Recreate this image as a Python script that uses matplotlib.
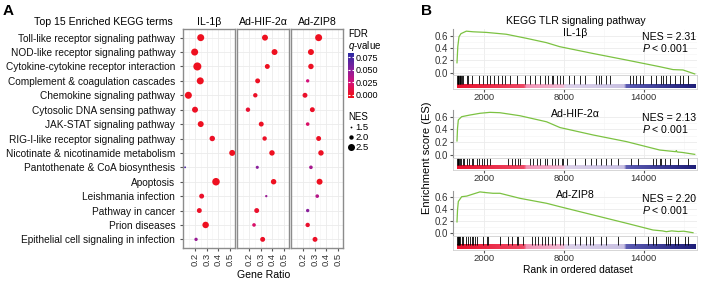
import matplotlib
matplotlib.use('Agg')
import matplotlib.pyplot as plt
import numpy as np
from matplotlib.colors import LinearSegmentedColormap, Normalize

plt.rcParams['font.family'] = ['Liberation Sans', 'DejaVu Sans']
plt.rcParams['mathtext.fontset'] = 'custom'
plt.rcParams['mathtext.rm'] = 'Liberation Sans'
plt.rcParams['mathtext.it'] = 'Liberation Sans:italic'

# ---- panel A data ----
terms = ['Toll-like receptor signaling pathway', 'NOD-like receptor signaling pathway',
         'Cytokine-cytokine receptor interaction', 'Complement & coagulation cascades',
         'Chemokine signaling pathway', 'Cytosolic DNA sensing pathway',
         'JAK-STAT signaling pathway', 'RIG-I-like receptor signaling pathway',
         'Nicotinate & nicotinamide metabolism', 'Pantothenate & CoA biosynthesis',
         'Apoptosis', 'Leishmania infection', 'Pathway in cancer', 'Prion diseases',
         'Epithelial cell signaling in infection']
groups = ['IL-1\u03b2', 'Ad-HIF-2\u03b1', 'Ad-ZIP8']

ratio_il = [0.249, 0.197, 0.22, 0.245, 0.143, 0.20, 0.249, 0.348, 0.519, 0.115,
            0.38, 0.257, 0.237, 0.291, 0.209]
ratio_hif = [0.337, 0.419, 0.357, 0.274, 0.254, 0.191, 0.305, 0.334, 0.397, 0.271,
             0.411, 0.348, 0.266, 0.243, 0.317]
ratio_zip = [0.334, 0.268, 0.268, 0.24, 0.217, 0.28, 0.24, 0.334, 0.354, 0.268,
             0.342, 0.322, 0.24, 0.24, 0.303]

nes_il = [2.5, 2.5, 2.7, 2.5, 2.5, 2.3, 2.3, 2.2, 2.3, 1.5, 2.6, 2.1, 2.1, 2.4, 1.8]
nes_hif = [2.3, 2.3, 2.1, 2.1, 2.0, 2.0, 2.1, 2.0, 2.2, 1.75, 2.2, 1.6, 2.1, 1.85, 2.1]
nes_zip = [2.5, 2.3, 2.2, 1.8, 2.1, 2.1, 1.85, 2.1, 2.2, 1.85, 2.3, 1.85, 1.8, 2.0, 2.1]

q_il = [0.0, 0.0, 0.0, 0.0, 0.0, 0.001, 0.0, 0.002, 0.0, 0.072, 0.0, 0.003, 0.002, 0.0, 0.045]
q_hif = [0.0, 0.0, 0.0, 0.001, 0.002, 0.005, 0.001, 0.002, 0.0, 0.05, 0.0, 0.045, 0.004, 0.02, 0.002]
q_zip = [0.0, 0.0, 0.001, 0.025, 0.003, 0.002, 0.02, 0.001, 0.001, 0.04, 0.0, 0.035, 0.05, 0.004, 0.002]

# ---- panel B data ----
gsea_names = ['IL-1\u03b2', 'Ad-HIF-2\u03b1', 'Ad-ZIP8']
gsea_nes = ['2.31', '2.13', '2.20']

rank_il = [0, 60, 150, 300, 500, 700, 1200, 2200, 3700, 5200, 6700, 7700, 10200,
           12700, 15200, 16200, 16950, 17830]
es_il = [0.16, 0.42, 0.58, 0.63, 0.65, 0.67, 0.66, 0.65, 0.62, 0.555, 0.485, 0.42,
         0.31, 0.205, 0.097, 0.05, 0.044, -0.02]

rank_hif = [0, 40, 100, 350, 970, 1720, 2470, 3220, 4720, 6720, 7720, 10220,
            12700, 15200, 16400, 16450, 16500, 16900, 17830]
es_hif = [0.22, 0.42, 0.55, 0.6, 0.626, 0.653, 0.668, 0.662, 0.615, 0.52, 0.43,
          0.313, 0.21, 0.078, 0.052, 0.07, 0.048, 0.04, 0.01]

rank_zip = [0, 40, 100, 350, 730, 1220, 1720, 2220, 2700, 3220, 4720, 6720, 7720,
            10220, 12720, 14700, 15400, 15700, 16100, 16600, 17000, 17700]
es_zip = [0.19, 0.39, 0.53, 0.61, 0.62, 0.655, 0.69, 0.677, 0.667, 0.667, 0.583,
          0.5, 0.443, 0.305, 0.167, 0.055, 0.04, 0.027, 0.04, 0.03, 0.035, 0.01]

hits_il = [10, 40, 70, 110, 150, 200, 260, 325, 400, 474, 724, 849, 1099, 1673, 1972,
           2222, 2472, 2771, 3046, 3346, 3595, 3970, 4470, 5093, 5468, 5842, 6217,
           6592, 6840, 7090, 7215, 7465, 7715, 7965, 8415, 8763, 9213, 9587, 10460,
           10660, 10835, 11210, 11510, 12957, 13207, 13406, 13706, 13956, 14580,
           14955, 15330, 15455, 15705, 15954, 16328, 16703, 16952, 17327]
hits_hif = [20, 60, 100, 150, 225, 325, 424, 549, 724, 899, 1099, 1223, 1473, 1673,
            1848, 2047, 2222, 2472, 3845, 4095, 4345, 4595, 4720, 5468, 5718, 5967,
            6217, 6592, 6717, 7090, 7340, 7590, 7839, 7965, 8214, 8838, 9587, 10087,
            10460, 10835, 11210, 11584, 12083, 13082, 13581, 14705, 14955, 15204,
            15330, 15580, 15954, 16578, 17327]
hits_zip = [10, 50, 90, 130, 170, 225, 350, 474, 649, 849, 974, 1099, 1223, 1348,
            1473, 1972, 2222, 2347, 3221, 3845, 4095, 4470, 4595, 4970, 5593, 5842,
            6092, 6342, 6592, 6840, 7090, 7340, 7715, 7965, 8340, 8838, 9213, 9712,
            9962, 10211, 10835, 11210, 12083, 13331, 14330, 14705, 14955, 15704,
            15829, 15954, 16328, 16578, 17077, 17327]

W, H = 709, 282
fig = plt.figure(figsize=(W / 100, H / 100), dpi=100)


def box(l, t, r, b):
    return [l / W, 1 - b / H, (r - l) / W, (b - t) / H]


qcmap = LinearSegmentedColormap.from_list('q', [(0, '#EE1020'), (0.3, '#D4107A'),
                                               (0.6, '#8A1F9C'), (1.0, '#2B2BA3')])
qnorm = Normalize(0, 0.083)


def dsize(n):
    # NES -> marker area (diameter in px converted to points)
    d = 1.8 + (n - 1.5) * 5.2
    return (d * 0.72) ** 2


grid_c = '#EBEBEB'
ypos = np.arange(len(terms))
facets = [(183, 235, ratio_il, nes_il, q_il), (237, 289, ratio_hif, nes_hif, q_hif),
          (291, 343, ratio_zip, nes_zip, q_zip)]
for k, (l, r, ratio, nes, q) in enumerate(facets):
    ax = fig.add_axes(box(l, 29, r, 248))
    ax.set_xlim(0.097, 0.543)
    ax.set_ylim(14.6, -0.6)
    ax.set_xticks([0.2, 0.3, 0.4, 0.5])
    ax.set_xticks([0.15, 0.25, 0.35, 0.45], minor=True)
    ax.set_yticks(ypos)
    ax.grid(True, which='major', color=grid_c, lw=0.6)
    ax.grid(True, which='minor', axis='x', color='#F4F4F4', lw=0.4)
    ax.set_axisbelow(True)
    ax.scatter(ratio, ypos, s=[dsize(n) for n in nes], c=q, cmap=qcmap, norm=qnorm,
               linewidths=0, zorder=3)
    for sp in ax.spines.values():
        sp.set_color('#8C8C8C')
        sp.set_linewidth(1.0)
    ax.tick_params(axis='x', which='major', length=2, color='#555555', labelsize=6.8,
                   labelrotation=90, pad=1.5)
    ax.tick_params(axis='x', which='minor', length=0)
    ax.set_xticklabels(['0.2', '0.3', '0.4', '0.5'], color='#333333')
    if k == 0:
        ax.tick_params(axis='y', length=2.5, color='#555555', labelsize=7.3, pad=3)
        ax.set_yticklabels(terms, color='#111111')
    else:
        ax.tick_params(axis='y', length=0, labelleft=False)

# q-value colorbar
cax = fig.add_axes(box(348, 53, 354, 98))
grad = np.linspace(-0.006, 0.083, 200)[:, None]
cax.imshow(grad, extent=(0, 1, -0.006, 0.083), origin='lower', aspect='auto',
           cmap=qcmap, norm=qnorm)
cax.set_xlim(0, 1)
cax.set_ylim(-0.006, 0.083)
cax.set_xticks([])
cax.set_yticks([0, 0.025, 0.05, 0.075])
cax.yaxis.tick_right()
cax.set_yticklabels(['0.000', '0.025', '0.050', '0.075'])
cax.tick_params(axis='y', direction='in', length=1.6, color='white', labelsize=6.5,
                pad=1.5, left=True)
for sp in cax.spines.values():
    sp.set_visible(False)

# ---- panel B ----
strip_cmap = LinearSegmentedColormap.from_list('rank', [
    (0.0, '#E8102C'), (0.28, '#EF4A66'), (0.29, '#F195B6'), (0.445, '#F2B9D2'),
    (0.455, '#DDD2EA'), (0.70, '#C9C1E2'), (0.71, '#5B5BB2'), (1.0, '#1E1E78')])

gsea = [(29.3, 72.7, 88.5, rank_il, es_il, hits_il),
        (110.3, 155.0, 169.5, rank_hif, es_hif, hits_hif),
        (191.3, 233.3, 249.5, rank_zip, es_zip, hits_zip)]
for top, zero, bot, rk, es, hits in gsea:
    scale = (zero - top) / 0.7
    es_bot = zero + 0.04 * scale
    ax = fig.add_axes(box(453, top, 697, es_bot))
    ax.plot(rk, es, color='#7CC242', lw=0.9)
    ax.set_xlim(-300, 18000)
    ax.set_ylim(-0.04, 0.7)
    ax.set_xticks([2000, 8000, 14000])
    ax.set_xticks([5000, 11000, 17000], minor=True)
    ax.set_yticks([0.0, 0.2, 0.4, 0.6])
    ax.set_yticks([0.1, 0.3, 0.5], minor=True)
    ax.grid(True, which='major', color=grid_c, lw=0.6)
    ax.grid(True, which='minor', color='#F4F4F4', lw=0.4)
    ax.set_axisbelow(True)
    for name in ['top', 'right', 'bottom']:
        ax.spines[name].set_visible(False)
    ax.spines['left'].set_color('#9A9A9A')
    ax.spines['left'].set_linewidth(0.8)
    ax.tick_params(axis='x', which='both', length=0, labelbottom=False)
    ax.tick_params(axis='y', which='major', length=2, color='#555555', labelsize=7,
                   pad=1.5)
    ax.tick_params(axis='y', which='minor', length=0)
    ax.set_yticklabels(['0.0', '0.2', '0.4', '0.6'], color='#333333')

    bx = fig.add_axes(box(453, es_bot, 697, bot))
    bx.set_xlim(-300, 18000)
    bx.set_ylim(0, 1)
    bx.vlines(hits, 0.36, 1.0, color='black', lw=0.6)
    bx.imshow(np.linspace(0, 1, 256)[None, :], extent=(0, 17900, 0, 0.3),
              aspect='auto', cmap=strip_cmap)
    bx.set_xlim(-300, 18000)
    bx.set_ylim(0, 1)
    bx.set_yticks([])
    bx.set_xticks([2000, 8000, 14000])
    bx.set_xticklabels(['2000', '8000', '14000'], color='#333333')
    bx.tick_params(axis='x', length=2, color='#555555', labelsize=6.8, pad=1.5)
    for sp in bx.spines.values():
        sp.set_color('#D0D0D0')
        sp.set_linewidth(0.6)

# ---- text overlay in pixel coordinates ----
ov = fig.add_axes([0, 0, 1, 1])
ov.set_xlim(0, W)
ov.set_ylim(H, 0)
ov.axis('off')
ov.patch.set_alpha(0)

ov.text(3, 11, 'A', fontsize=11, fontweight='bold', va='center')
ov.text(421, 11, 'B', fontsize=11, fontweight='bold', va='center')

ov.text(173, 22, 'Top 15 Enriched KEGG terms', fontsize=7.6, ha='right', va='center')
for (l, r, *_), g in zip(facets, groups):
    ov.text((l + r) / 2, 22, g, fontsize=7.6, ha='center', va='center')
ov.text(264, 275, 'Gene Ratio', fontsize=7.6, ha='center', va='center')

ov.text(348, 34, 'FDR', fontsize=7, va='center')
ov.text(348, 46, r'$\it{q}$-value', fontsize=7, va='center')
ov.text(348, 117, 'NES', fontsize=7, va='center')
for yy, n in zip([127, 137, 147], [1.5, 2.0, 2.5]):
    ov.scatter([350.5], [yy], s=dsize(n), color='black', linewidths=0)
    ov.text(355, yy, f'{n:.1f}', fontsize=6.8, va='center')

ov.text(576, 21, 'KEGG TLR signaling pathway', fontsize=7.6, ha='center', va='center')
for (top, zero, *_), name, nes in zip(gsea, gsea_names, gsea_nes):
    ov.text(575, top + 4, name, fontsize=7.6, ha='center', va='center')
    ov.text(642, top + 7.5, f'NES = {nes}', fontsize=7.6, va='center')
    ov.text(642, top + 19, r'$\it{P}$ < 0.001', fontsize=7.6, va='center')

ov.text(427, 158, 'Enrichment score (ES)', fontsize=8, rotation=90,
        ha='center', va='center')
ov.text(578, 270, 'Rank in ordered dataset', fontsize=7.4, ha='center', va='center')

fig.savefig('out.png', dpi=100)
